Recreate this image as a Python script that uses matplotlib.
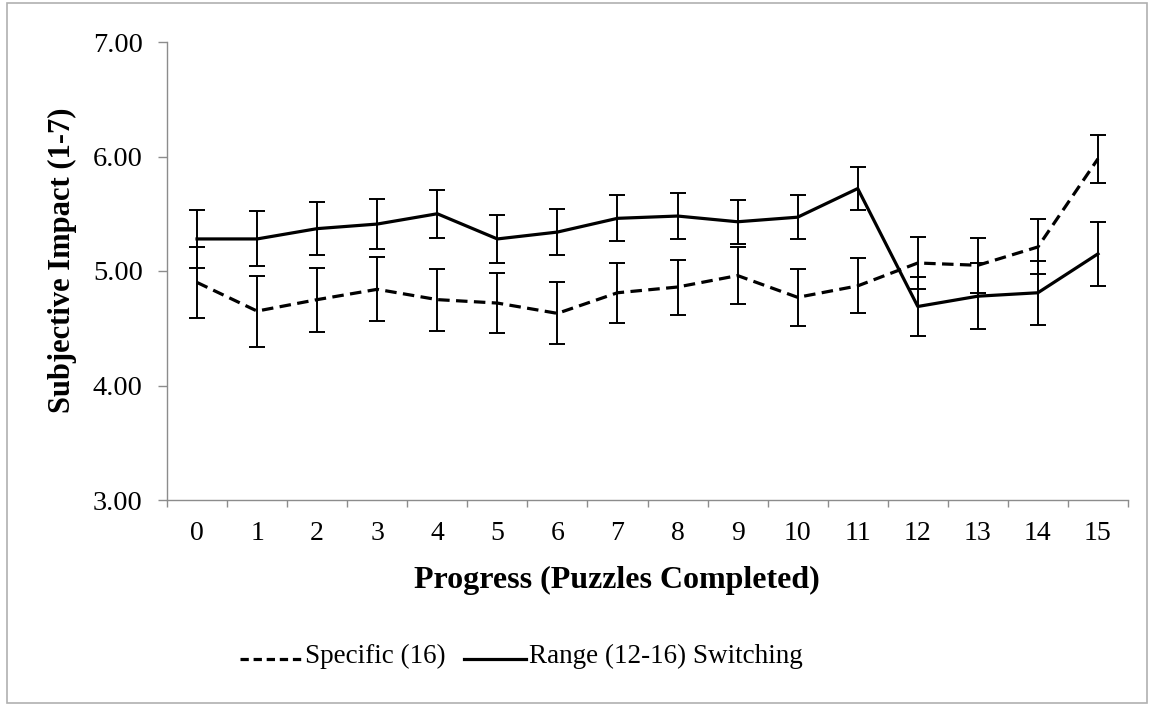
import matplotlib
matplotlib.use("Agg")
import matplotlib.pyplot as plt
from matplotlib.patches import Rectangle
from matplotlib.lines import Line2D

plt.rcParams['font.family'] = ['Liberation Serif', 'DejaVu Serif']

progress = list(range(16))
specific_mean = [4.90, 4.65, 4.75, 4.84, 4.75, 4.72, 4.63, 4.81, 4.86, 4.96, 4.77, 4.87, 5.07, 5.05, 5.21, 5.98]
specific_err = [0.31, 0.31, 0.28, 0.28, 0.27, 0.26, 0.27, 0.26, 0.24, 0.25, 0.25, 0.24, 0.23, 0.24, 0.24, 0.21]
range_mean = [5.28, 5.28, 5.37, 5.41, 5.50, 5.28, 5.34, 5.46, 5.48, 5.43, 5.47, 5.72, 4.69, 4.78, 4.81, 5.15]
range_err = [0.25, 0.24, 0.23, 0.22, 0.21, 0.21, 0.20, 0.20, 0.20, 0.19, 0.19, 0.19, 0.26, 0.29, 0.28, 0.28]
series_names = ['Specific (16)', 'Range (12-16) Switching']
yticks = [3.0, 4.0, 5.0, 6.0, 7.0]

W, H = 1149, 704
fig = plt.figure(figsize=(W / 100, H / 100), dpi=100)
ax = fig.add_axes([167 / W, 1 - 500 / H, (1128 - 167) / W, (500 - 42) / H])

# outer chart-area border
fig.patches.append(Rectangle((0.006, 0.002), 0.992, 0.994, transform=fig.transFigure,
                             fill=False, edgecolor='#b0b0b0', linewidth=1.2))

dash = (0, (3.6, 2.0))
ekw = dict(fmt='none', ecolor='black', elinewidth=1.4, capsize=6, capthick=1.4, zorder=2)
ax.errorbar(progress, specific_mean, yerr=specific_err, **ekw)
ax.errorbar(progress, range_mean, yerr=range_err, **ekw)

ax.plot(progress, specific_mean, color='black', linewidth=2.3, linestyle=dash, zorder=3)
ax.plot(progress, range_mean, color='black', linewidth=2.3, linestyle='-', zorder=3)

ax.set_xlim(-0.5, 15.5)
ax.set_ylim(3, 7)
ax.set_yticks(yticks)
ax.set_yticklabels([f"{v:.2f}" for v in yticks])
ax.set_xticks(progress)
ax.set_xticks([i - 0.5 for i in range(17)], minor=True)
ax.tick_params(axis='x', which='major', length=0, pad=15, labelsize=20)
ax.tick_params(axis='x', which='minor', length=5, color='#8c8c8c', width=1)
ax.tick_params(axis='y', which='major', length=6.5, color='#8c8c8c', width=1, pad=11, labelsize=20.5)

for side in ['top', 'right']:
    ax.spines[side].set_visible(False)
for side in ['left', 'bottom']:
    ax.spines[side].set_color('#8c8c8c')
    ax.spines[side].set_linewidth(1)

fig.text(617 / W, 1 - 580 / H, 'Progress (Puzzles Completed)', fontsize=23, fontweight='bold',
         ha='center', va='center')
fig.text(62 / W, 1 - 260 / H, 'Subjective Impact (1-7)', fontsize=22, fontweight='bold',
         ha='center', va='center', rotation=90)

# legend row beneath the axes
ly = 1 - 659 / H
fig.add_artist(Line2D([240 / W, 302 / W], [ly, ly], color='black', linewidth=2.3,
                      linestyle=(0, (2.6, 1.5)), transform=fig.transFigure))
fig.text(305 / W, 1 - 656 / H, series_names[0], fontsize=19.5, ha='left', va='center')
fig.add_artist(Line2D([464 / W, 526 / W], [ly, ly], color='black', linewidth=2.3,
                      linestyle='-', transform=fig.transFigure))
fig.text(529 / W, 1 - 656 / H, series_names[1], fontsize=19.5, ha='left', va='center')

fig.savefig('out.png', dpi=100)
